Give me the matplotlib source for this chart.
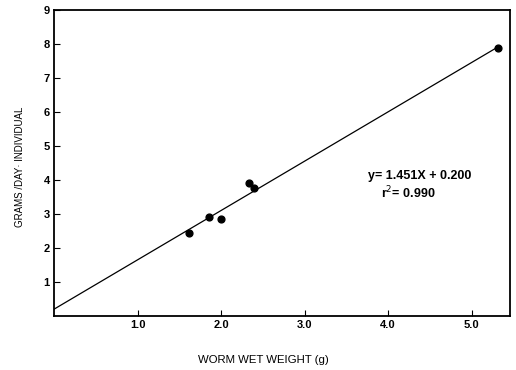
import matplotlib
matplotlib.use("Agg")
import matplotlib.pyplot as plt
import numpy as np

plt.rcParams['font.family'] = ['Liberation Sans', 'DejaVu Sans']

weight = [1.62, 1.85, 2.00, 2.33, 2.40, 5.32]
grams = [2.43, 2.92, 2.84, 3.90, 3.76, 7.87]
slope, intercept = 1.451, 0.200
xticks = [1.0, 2.0, 3.0, 4.0, 5.0]
xticklabels = ["1.0", "2.0", "3.0", "4.0", "5.0"]
yticks = [1, 2, 3, 4, 5, 6, 7, 8, 9]

fig = plt.figure(figsize=(5.16, 3.70), dpi=100)
ax = fig.add_axes([54/516, 1 - 316/370, (510-54)/516, (316-10)/370])

xl = np.array([0.0, 5.32])
ax.plot(xl, slope * xl + intercept, color='black', lw=0.9)
ax.scatter(weight, grams, s=24, color='black', zorder=3)

ax.set_xlim(0, 5.46)
ax.set_ylim(0, 9)
ax.set_xticks(xticks)
ax.set_xticklabels(xticklabels)
ax.set_yticks(yticks)
ax.tick_params(direction='in', length=4, width=0.8, labelsize=8, pad=3)
for lab in ax.get_xticklabels() + ax.get_yticklabels():
    lab.set_fontweight('bold')
for s in ax.spines.values():
    s.set_linewidth(1.3)

ax.text(3.76, 4.13, "y= 1.451X + 0.200", fontsize=9, fontweight='bold', va='center')
ax.text(3.92, 3.62, "r$^2$= 0.990", fontsize=9, fontweight='bold', va='center')

fig.text(263/516, 1 - 360/370, "WORM WET WEIGHT (g)", fontsize=8.2, ha='center', va='center')
fig.text(20/516, 1 - 167/370, "GRAMS /DAY· INDIVIDUAL", fontsize=7, ha='center', va='center', rotation=90)

fig.savefig("out.png", dpi=100)
